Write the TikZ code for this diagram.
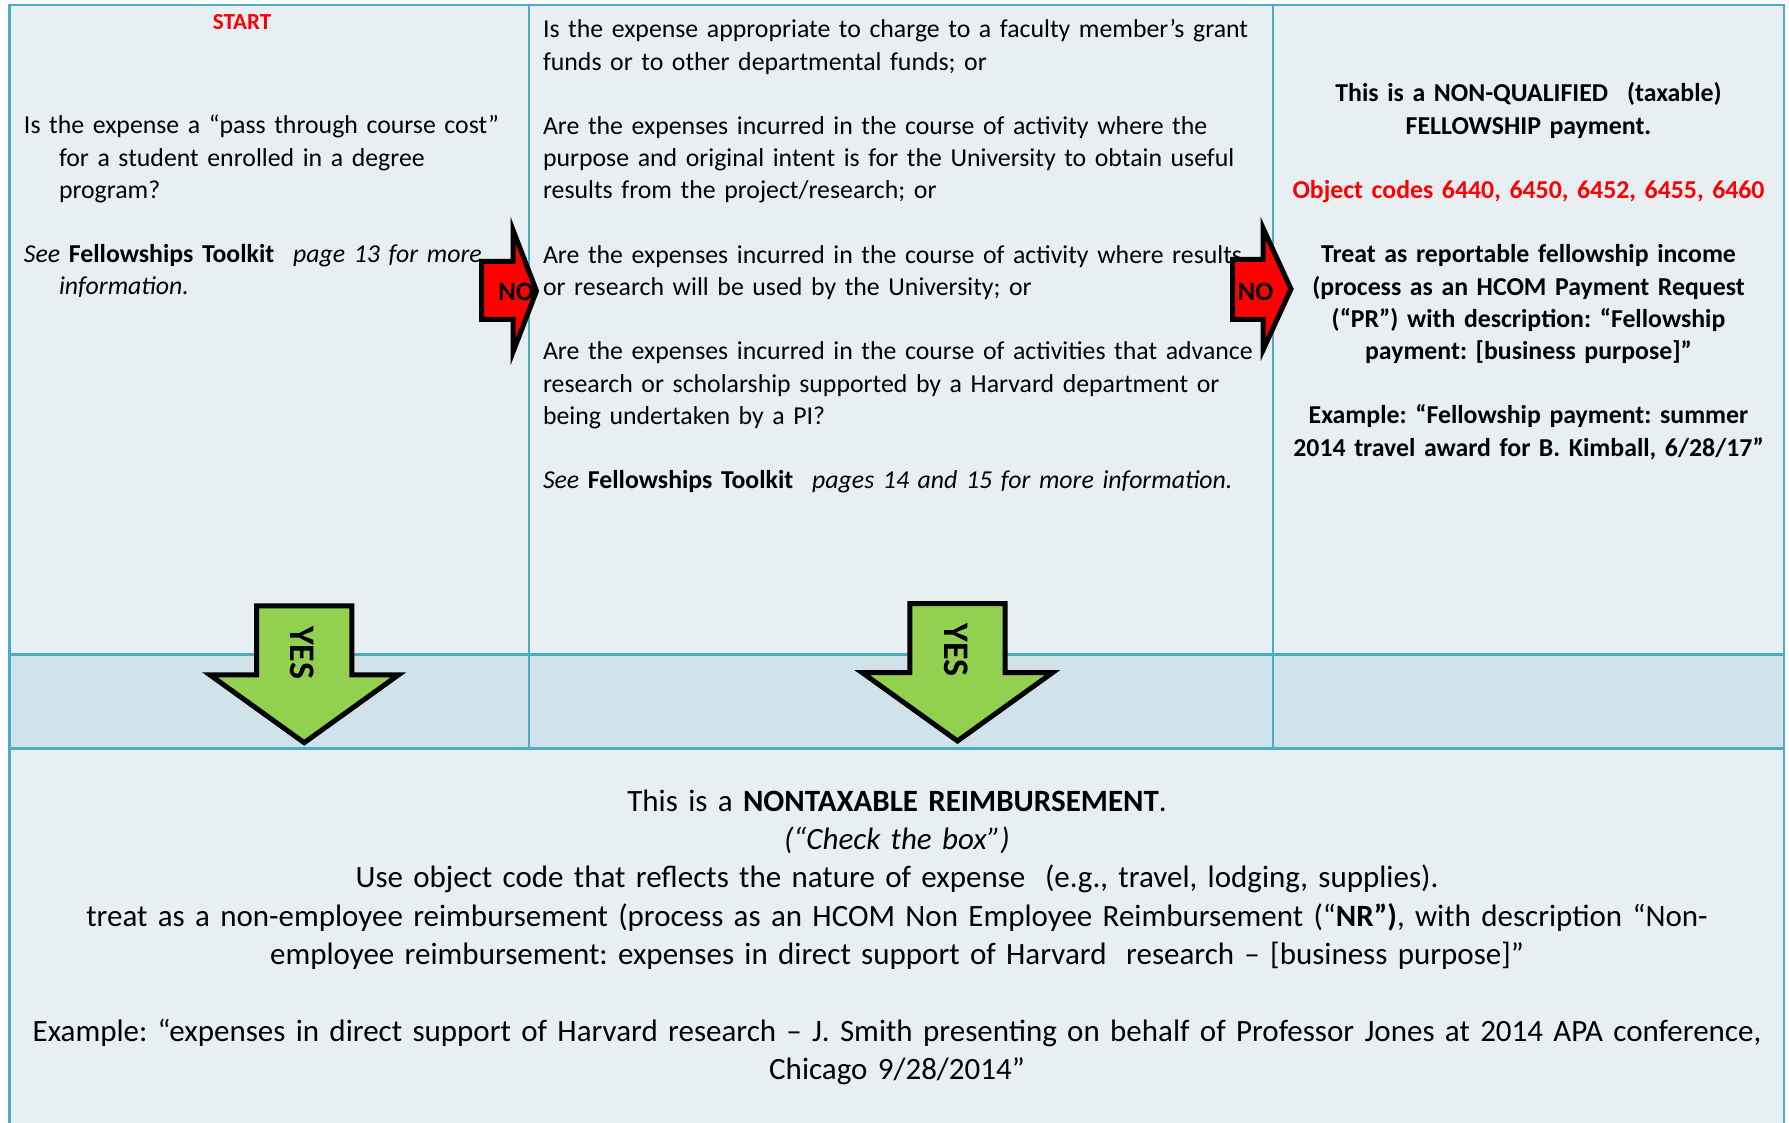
\documentclass[tikz,border=0pt]{standalone}
\usepackage{fontspec}
\setmainfont{Carlito}
\frenchspacing
\definecolor{cellA}{HTML}{E8EFF3}
\definecolor{cellB}{HTML}{D0E2EA}
\definecolor{gridc}{HTML}{4BACC6}
\definecolor{noRed}{HTML}{FF0000}
\definecolor{yesGreen}{HTML}{92D050}
\tikzset{
  gridline/.style={draw=gridc, line width=1.25pt, line join=miter},
  noarrow/.style={draw=black, fill=noRed, line width=2.5pt, line join=miter},
  yesarrow/.style={draw=black, fill=yesGreen, line width=2.5pt, line join=miter},
  txt/.style={inner sep=0pt, outer sep=0pt},
  topfont/.style={font=\fontsize{12.9}{16.1}\selectfont},
  topbold/.style={font=\fontsize{12.9}{16.1}\selectfont\bfseries},
  botfont/.style={font=\fontsize{15.5}{19.2}\selectfont},
  nolabel/.style={inner sep=0pt, font=\fontsize{13.3}{15}\selectfont\bfseries},
  yeslabel/.style={inner sep=0pt, rotate=-90, font=\fontsize{18}{20}\selectfont\bfseries}
}
\begin{document}
\begin{tikzpicture}[x=0.5pt,y=-0.5pt]
\useasboundingbox (0,0) rectangle (1789,1123);
\fill[white] (0,0) rectangle (1789,1123);
% cells
\fill[cellA] (9.7,5.2) rectangle (1784,654.3);
\fill[cellB] (9.7,654.3) rectangle (1784,748.3);
\fill[cellA] (9.7,748.3) rectangle (1784,1123);
% grid
\draw[gridline] (9.7,1123) -- (9.7,5.2) -- (1784,5.2) -- (1784,1123);
\draw[gridline] (9.7,654.3) -- (1784,654.3);
\draw[gridline] (9.7,748.3) -- (1784,748.3);
\draw[gridline] (529,5.2) -- (529,748.3);
\draw[gridline] (1273,5.2) -- (1273,748.3);

% texts
\node[txt, text=noRed, font=\fontsize{11.5}{13}\selectfont\bfseries, anchor=base] (start) at (242,30) {START};

\node[txt, topfont, text width=258pt, align=left, anchor=base west] (q1) at (24,134)
{Is the expense a “pass through course cost”\\
\hspace*{17.5pt}for a student enrolled in a degree\\
\hspace*{17.5pt}program?\\[16.1pt]
\textit{See} \textbf{Fellowships Toolkit}\hspace{0.4em} \textit{page 13 for more}\\
\hspace*{17.5pt}\textit{information.}};

\node[txt, topfont, text width=370pt, align=left, anchor=base west] (q2) at (543,38)
{Is the expense appropriate to charge to a faculty member’s grant\\
funds or to other departmental funds; or\\[16.1pt]
Are the expenses incurred in the course of activity where the\\
purpose and original intent is for the University to obtain useful\\
results from the project/research; or\\[16.1pt]
Are the expenses incurred in the course of activity where results\\
or research will be used by the University; or\\[16.1pt]
Are the expenses incurred in the course of activities that advance\\
research or scholarship supported by a Harvard department or\\
being undertaken by a PI?\\[16.1pt]
\textit{See} \textbf{Fellowships Toolkit}\hspace{0.4em} \textit{pages 14 and 15 for more information.}};

\node[txt, topbold, text width=255pt, align=center, anchor=base] (res1) at (1528.5,102)
{This is a NON-QUALIFIED\hspace{0.4em} (taxable)\\
FELLOWSHIP payment.\\[16.1pt]
\textcolor{noRed}{Object codes 6440, 6450, 6452, 6455, 6460}\\[16.1pt]
Treat as reportable fellowship income\\
(process as an HCOM Payment Request\\
(“PR”) with description: “Fellowship\\
payment: [business purpose]”\\[16.1pt]
Example: “Fellowship payment: summer\\
2014 travel award for B. Kimball, 6/28/17”};

\node[txt, botfont, text width=880pt, align=center, anchor=base] (res2) at (897,811)
{This is a \textbf{NONTAXABLE REIMBURSEMENT}.\\
\textit{(“Check the box”)}\\
Use object code that reflects the nature of expense\hspace{0.3em} (e.g., travel, lodging, supplies).\\
treat as a non-employee reimbursement (process as an HCOM Non Employee Reimbursement (“\textbf{NR”)}, with description “Non-\\
employee reimbursement: expenses in direct support of Harvard\hspace{0.3em} research – [business purpose]”\\[19.2pt]
Example: “expenses in direct support of Harvard research – J. Smith presenting on behalf of Professor Jones at 2014 APA conference,\\
Chicago 9/28/2014”};

% NO arrows
\draw[noarrow] (481.5,261.5) -- (513,261.5) -- (513,230) -- (536.5,291) -- (513,352) -- (513,319.5) -- (481.5,319.5) -- cycle;
\node[nolabel] (no1) at (516,291.5) {NO};
\draw[noarrow] (1232.5,259.5) -- (1263,259.5) -- (1263,228) -- (1291,289) -- (1263,350) -- (1263,319.5) -- (1232.5,319.5) -- cycle;
\node[nolabel] (no2) at (1255.5,291.5) {NO};

% YES arrows
\draw[yesarrow] (256.5,605.8) -- (351.8,605.8) -- (351.8,674.8) -- (398.6,674.8) -- (304.2,742.7) -- (209.8,674.8) -- (256.5,674.8) -- cycle;
\node[yeslabel] (yes1) at (302,652.5) {YES};
\draw[yesarrow] (909.8,603.5) -- (1005.2,603.5) -- (1005.2,672.5) -- (1052.7,672.5) -- (957.5,741) -- (862,672.5) -- (909.8,672.5) -- cycle;
\node[yeslabel] (yes2) at (956,650) {YES};
\end{tikzpicture}
\end{document}
